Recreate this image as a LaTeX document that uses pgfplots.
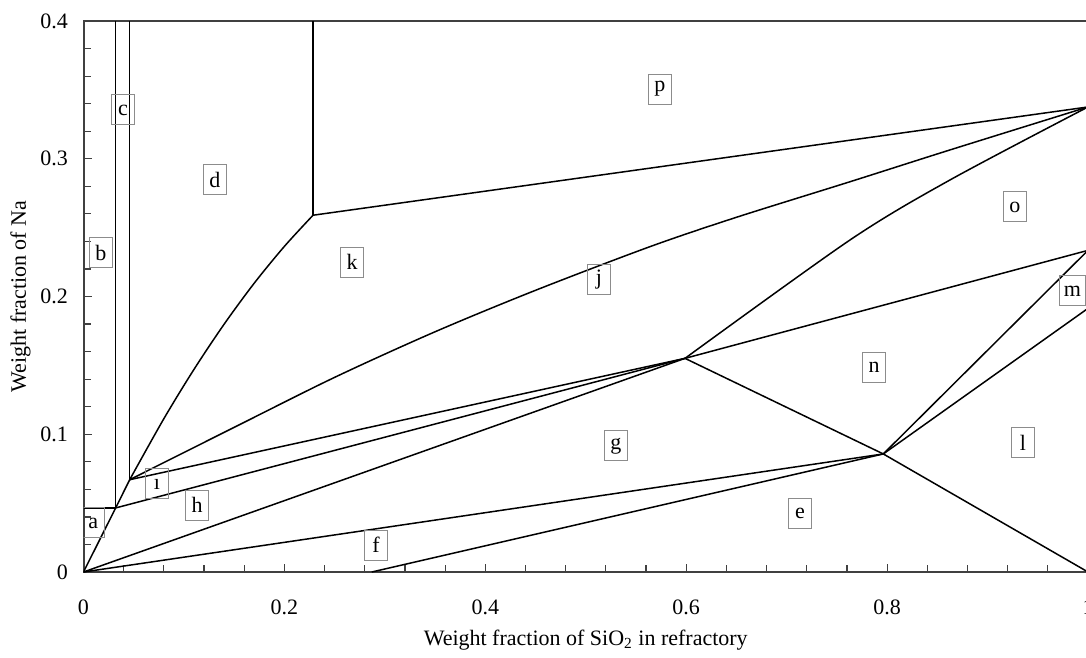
\documentclass[border=0pt]{standalone}
\usepackage{pgfplots}
\pgfplotsset{compat=1.18}
\usepackage{fontspec}
\setmainfont{Liberation Serif}
\begin{document}
\fontsize{11pt}{13pt}\selectfont
\begin{tikzpicture}
\begin{axis}[
  scale only axis,
  width=502.25pt, height=275.5pt,
  xmin=0, xmax=1, ymin=0, ymax=0.4,
  xtick={0,0.2,0.4,0.6,0.8,1},
  ytick={0,0.1,0.2,0.3,0.4},
  minor x tick num=4,
  minor y tick num=4,
  tick align=inside,
  xtick pos=bottom, ytick pos=left,
  major tick length=4pt, minor tick length=3.5pt,
  axis line style={draw=black!75, line width=1pt},
  every tick/.style={black!75, line width=0.6pt},
  /pgf/number format/assume math mode=true,
  /pgf/number format/.cd, fixed, precision=1,
  /pgfplots/.cd,
  xticklabel style={yshift=-10pt},
  yticklabel style={xshift=-4pt},
  xlabel={Weight fraction of SiO\textsubscript{2} in refractory},
  ylabel={Weight fraction of Na},
  xlabel style={at={(axis description cs:0.5,0)}, anchor=center, yshift=-34pt},
  ylabel style={at={(axis description cs:0,0.5)}, anchor=center, yshift=31.5pt},
  cycle list={{black, solid, mark=none}},
  every axis plot/.append style={line width=0.75pt},
]
% left vertical lines
\addplot coordinates {(0.032,0.0465) (0.032,0.4)};
\addplot coordinates {(0.046,0.067) (0.046,0.4)};
\addplot coordinates {(0,0.0465) (0.032,0.0465)};
% origin -> A -> I
\addplot coordinates {(0,0) (0.032,0.0465) (0.046,0.067)};
% d/k curve
\addplot+[smooth] coordinates {(0.046,0.067) (0.08,0.1113) (0.11,0.1471) (0.14,0.1799) (0.17,0.2097) (0.20,0.2364) (0.2285,0.259)};
% vertical at 0.2285
\addplot coordinates {(0.2285,0.259) (0.2285,0.4)};
% p/j line
\addplot coordinates {(0.2285,0.259) (1,0.3376)};
% k/j curve
\addplot+[smooth] coordinates {(0.046,0.067) (0.15,0.105) (0.25,0.1413) (0.35,0.1744) (0.45,0.2045) (0.564,0.2362) (0.65,0.2575) (0.763,0.2833) (0.8626,0.3064) (1,0.3376)};
% lines to P
\addplot coordinates {(0.046,0.067) (0.5988,0.1551)};
\addplot coordinates {(0.032,0.0465) (0.5988,0.1551)};
\addplot coordinates {(0,0) (0.5988,0.1551)};
% j/o curve
\addplot+[smooth] coordinates {(0.5988,0.1551) (0.763,0.241) (0.8626,0.2846) (1,0.3376)};
% n/o line
\addplot coordinates {(0.5988,0.1551) (1,0.2335)};
% P -> Q -> (1,0)
\addplot coordinates {(0.5988,0.1551) (0.7962,0.0857) (1,0)};
% origin -> Q, e/f
\addplot coordinates {(0,0) (0.7962,0.0857)};
\addplot coordinates {(0.287,0) (0.7962,0.0857)};
% m lines
\addplot coordinates {(0.7962,0.0857) (1,0.2335)};
\addplot coordinates {(0.7962,0.0857) (1,0.1914)};
% region labels
\tikzset{lab/.style={draw=black!45, line width=0.5pt, inner sep=2pt, minimum width=11.5pt, minimum height=15pt}}
\node[lab] at (axis cs:0.0096,0.0356) {a};
\node[lab] at (axis cs:0.0174,0.2316) {b};
\node[lab] at (axis cs:0.0393,0.3354) {c};
\node[lab] at (axis cs:0.1309,0.2846) {d};
\node[lab] at (axis cs:0.7133,0.0428) {e};
\node[lab] at (axis cs:0.2912,0.0196) {f};
\node[lab] at (axis cs:0.5301,0.0915) {g};
\node[lab] at (axis cs:0.113,0.0486) {h};
\node[lab] at (axis cs:0.0732,0.0639) {ı};
\node[lab] at (axis cs:0.5132,0.2120) {j};
\node[lab] at (axis cs:0.2673,0.2250) {k};
\node[lab] at (axis cs:0.9353,0.0937) {l};
\node[lab, anchor=east] at (axis cs:0.9975,0.2040) {m};
\node[lab] at (axis cs:0.787,0.1488) {n};
\node[lab] at (axis cs:0.9273,0.2650) {o};
\node[lab] at (axis cs:0.5739,0.3506) {p};
\end{axis}
\pgfresetboundingbox
\useasboundingbox ([shift={(-41.75pt,-43pt)}]current axis.south west) rectangle ([shift={(501.25pt,286pt)}]current axis.south west);
\end{tikzpicture}
\end{document}
